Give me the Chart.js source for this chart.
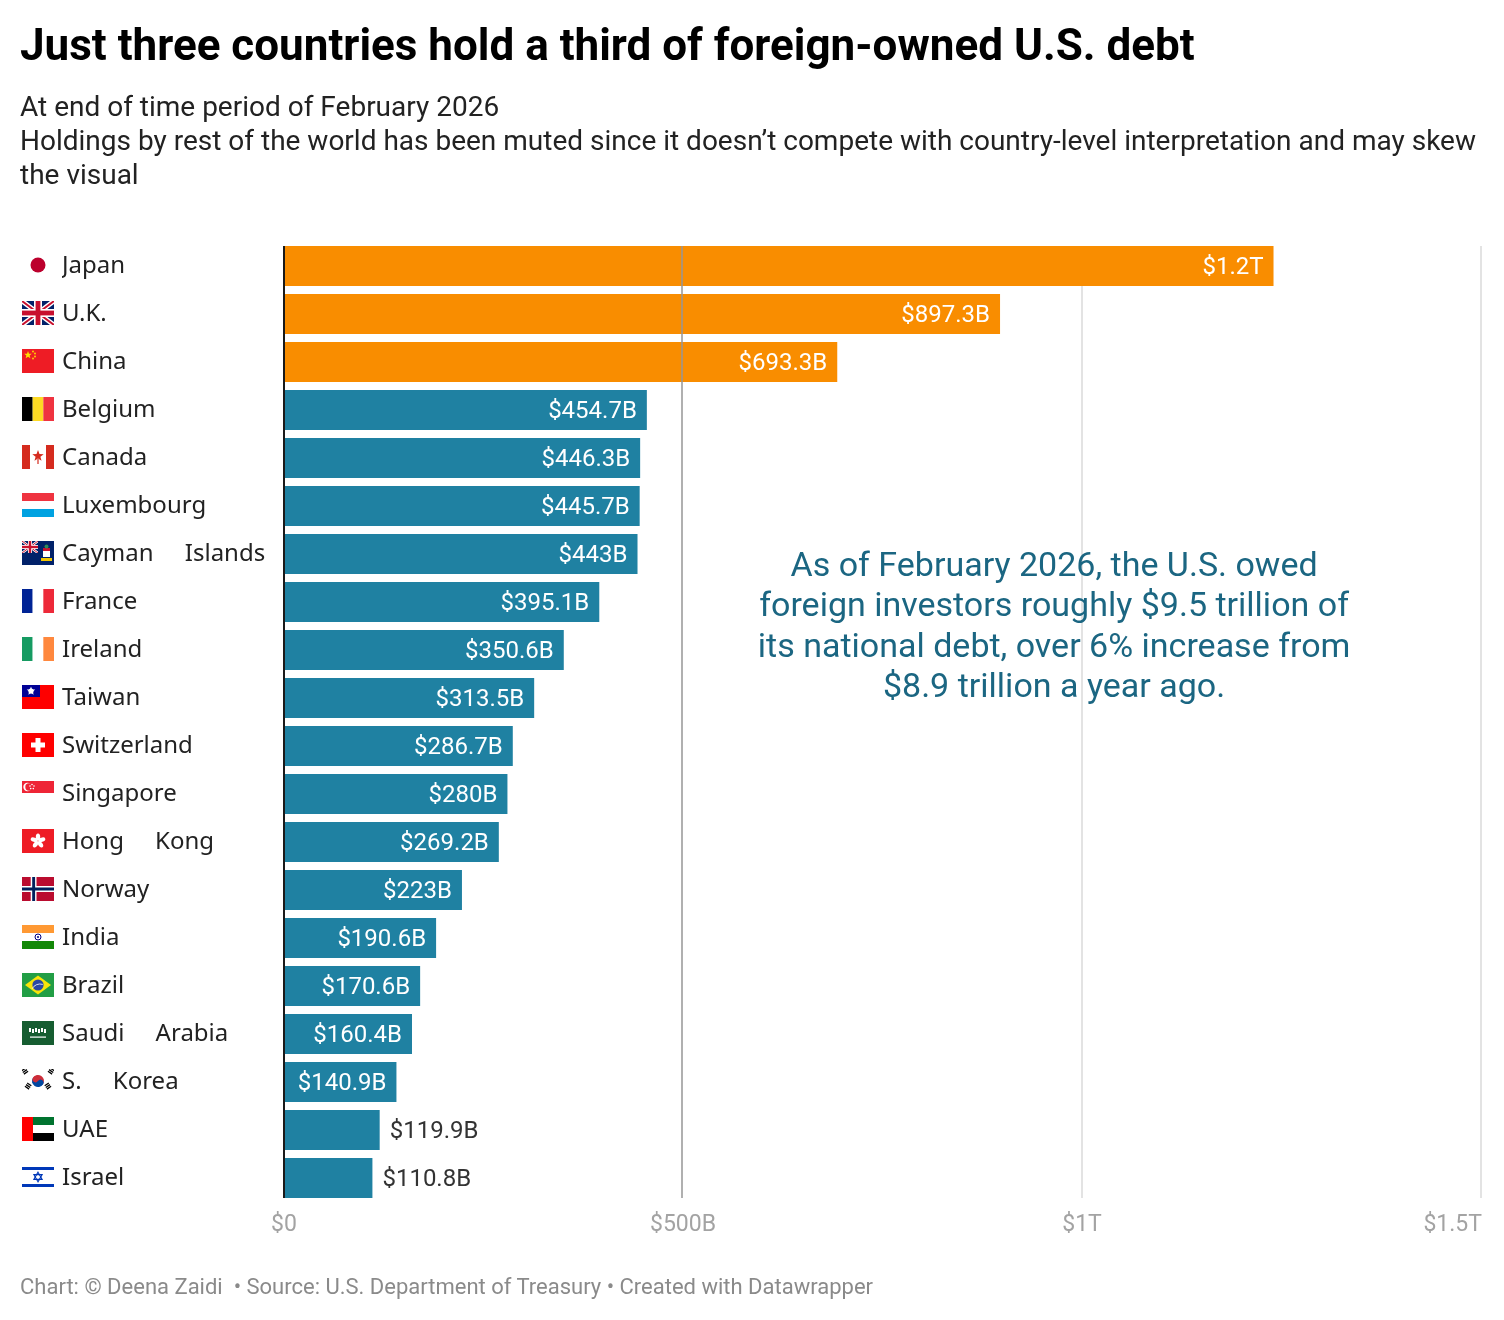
<!DOCTYPE html>
<html>
<head>
<meta charset="utf-8">
<script src="https://cdn.jsdelivr.net/npm/chart.js@4.4.1/dist/chart.umd.min.js"></script>
<style>
  body { margin: 0; background: #fff; }
  #page { position: relative; width: 1504px; height: 1320px; overflow: hidden; background: #fff; }
  #c { position: absolute; left: 0; top: 0; }
  .txt { position: absolute; left: 20px; white-space: nowrap; font-family: Roboto, sans-serif; }
  #title { top: 23px; font-size: 44px; line-height: 44px; font-weight: 700; color: #000; }
  #subtitle { top: 90.4px; font-size: 28px; line-height: 34px; color: #222; }
  #footer { top: 1275.5px; font-size: 22px; line-height: 22px; color: #8a8a8a; }
</style>
</head>
<body>
<div id="page">
  <canvas id="c" width="1504" height="1320"></canvas>
  <div class="txt" id="title">Just three countries hold a third of foreign-owned U.S. debt</div>
  <div class="txt" id="subtitle">At end of time period of February 2026<br>Holdings by rest of the world has been muted since it doesn’t compete with country-level interpretation and may skew<br>the visual</div>
  <div class="txt" id="footer">Chart: © Deena Zaidi &nbsp;• Source: U.S. Department of Treasury • Created with Datawrapper</div>
</div>
<script>
// data, in billions of dollars
const countries = ["Japan", "U.K.", "China", "Belgium", "Canada", "Luxembourg", "Cayman     Islands",
  "France", "Ireland", "Taiwan", "Switzerland", "Singapore", "Hong     Kong", "Norway", "India",
  "Brazil", "Saudi     Arabia", "S.     Korea", "UAE", "Israel"];
const holdings = [1240, 897.3, 693.3, 454.7, 446.3, 445.7, 443, 395.1, 350.6, 313.5, 286.7, 280,
  269.2, 223, 190.6, 170.6, 160.4, 140.9, 119.9, 110.8];
const flags = ["jp", "gb", "cn", "be", "ca", "lu", "ky", "fr", "ie", "tw", "ch", "sg", "hk", "no",
  "in", "br", "sa", "kr", "ae", "il"];
const axisTicks = [0, 500, 1000, 1500];
const note = ["As of February 2026, the U.S. owed",
  "foreign investors roughly $9.5 trillion of",
  "its national debt, over 6% increase from",
  "$8.9 trillion a year ago."];

const ORANGE = "#f98d00";
const TEAL = "#1f81a2";

const fmtValue = v => v >= 1000 ? "$" + (v / 1000).toFixed(1) + "T" : "$" + v + "B";
const fmtAxis = v => v === 0 ? "$0" : v >= 1000 ? "$" + (v / 1000) + "T" : "$" + v + "B";

function star(ctx, cx, cy, r, color, rot) {
  ctx.fillStyle = color;
  ctx.beginPath();
  for (let i = 0; i < 10; i++) {
    const a = (rot || 0) - Math.PI / 2 + i * Math.PI / 5;
    const rr = i % 2 ? r * 0.42 : r;
    ctx.lineTo(cx + Math.cos(a) * rr, cy + Math.sin(a) * rr);
  }
  ctx.closePath();
  ctx.fill();
}

function unionJack(ctx, x, y, w, h) {
  ctx.save();
  ctx.beginPath(); ctx.rect(x, y, w, h); ctx.clip();
  ctx.fillStyle = "#012169"; ctx.fillRect(x, y, w, h);
  const diag = (c, lw) => {
    ctx.strokeStyle = c; ctx.lineWidth = lw;
    ctx.beginPath();
    ctx.moveTo(x, y); ctx.lineTo(x + w, y + h);
    ctx.moveTo(x + w, y); ctx.lineTo(x, y + h);
    ctx.stroke();
  };
  diag("#fff", h * 0.2);
  diag("#c8102e", h * 0.08);
  ctx.fillStyle = "#fff";
  ctx.fillRect(x + w / 2 - h / 6, y, h / 3, h);
  ctx.fillRect(x, y + h / 2 - h / 6, w, h / 3);
  ctx.fillStyle = "#c8102e";
  ctx.fillRect(x + w / 2 - h / 10, y, h / 5, h);
  ctx.fillRect(x, y + h / 2 - h / 10, w, h / 5);
  ctx.restore();
}

function drawFlag(ctx, code, x, y, w, h) {
  ctx.save();
  ctx.beginPath(); ctx.rect(x, y, w, h); ctx.clip();
  const rect = (c, a, b, cw, ch) => { ctx.fillStyle = c; ctx.fillRect(x + a, y + b, cw, ch); };
  const dot = (c, cx, cy, r) => { ctx.fillStyle = c; ctx.beginPath(); ctx.arc(x + cx, y + cy, r, 0, Math.PI * 2); ctx.fill(); };
  switch (code) {
    case "jp":
      dot("#bc002d", w / 2, h / 2, 7.5);
      break;
    case "gb":
      unionJack(ctx, x, y, w, h);
      break;
    case "cn":
      rect("#ee1c25", 0, 0, w, h);
      star(ctx, x + 6, y + 6, 4, "#ffde00");
      dot("#ffde00", 11, 2.5, 0.9); dot("#ffde00", 13, 4.5, 0.9);
      dot("#ffde00", 13, 7.5, 0.9); dot("#ffde00", 11, 9.5, 0.9);
      break;
    case "be":
      rect("#000", 0, 0, w / 3, h); rect("#fdda24", w / 3, 0, w / 3, h); rect("#ef3340", 2 * w / 3, 0, w / 3 + 1, h);
      break;
    case "ca":
      rect("#d52b1e", 0, 0, w, h); rect("#fff", 8, 0, 16, h);
      star(ctx, x + 16, y + 11, 6, "#d52b1e");
      rect("#d52b1e", 15.4, 14, 1.2, 5);
      break;
    case "lu":
      rect("#ef3340", 0, 0, w, 8); rect("#fff", 0, 8, w, 8); rect("#00a2e1", 0, 16, w, 8);
      break;
    case "ky":
      rect("#012169", 0, 0, w, h);
      unionJack(ctx, x, y, 16, 12);
      rect("#fff", 21, 7, 7, 9);
      rect("#c8102e", 21, 7, 7, 3);
      dot("#2e8b57", 24.5, 5.5, 2);
      rect("#f2c500", 19, 17, 11, 3);
      break;
    case "fr":
      rect("#002395", 0, 0, w / 3, h); rect("#fff", w / 3, 0, w / 3, h); rect("#ed2939", 2 * w / 3, 0, w / 3 + 1, h);
      break;
    case "ie":
      rect("#169b62", 0, 0, w / 3, h); rect("#fff", w / 3, 0, w / 3, h); rect("#ff883e", 2 * w / 3, 0, w / 3 + 1, h);
      break;
    case "tw":
      rect("#fe0000", 0, 0, w, h); rect("#000095", 0, 0, 18, 12);
      star(ctx, x + 9, y + 6, 4.5, "#fff");
      dot("#fff", 9, 6, 2.6);
      break;
    case "ch":
      rect("#ff0000", 0, 0, w, h);
      rect("#fff", 13.5, 5, 5, 14); rect("#fff", 9, 9.5, 14, 5);
      break;
    case "sg":
      rect("#ee2536", 0, 0, w, 12);
      dot("#fff", 5.5, 6, 4.2); dot("#ee2536", 7, 6, 3.7);
      dot("#fff", 10, 3.5, 0.8); dot("#fff", 12, 5, 0.8); dot("#fff", 11.3, 7.6, 0.8);
      dot("#fff", 8.7, 7.6, 0.8); dot("#fff", 8, 5, 0.8);
      break;
    case "hk":
      rect("#ee1c25", 0, 0, w, h);
      ctx.fillStyle = "#fff";
      for (let k = 0; k < 5; k++) {
        const a = -Math.PI / 2 + k * 2 * Math.PI / 5;
        ctx.beginPath();
        ctx.ellipse(x + 16 + Math.cos(a) * 4, y + 12 + Math.sin(a) * 4, 3.6, 2.2, a, 0, Math.PI * 2);
        ctx.fill();
      }
      break;
    case "no":
      rect("#ba0c2f", 0, 0, w, h);
      rect("#fff", 8.7, 0, 5.8, h); rect("#fff", 0, 9, w, 6);
      rect("#00205b", 10.2, 0, 2.9, h); rect("#00205b", 0, 10.5, w, 3);
      break;
    case "in":
      rect("#ff9933", 0, 0, w, 8); rect("#fff", 0, 8, w, 8); rect("#138808", 0, 16, w, 8);
      ctx.strokeStyle = "#000080"; ctx.lineWidth = 1;
      ctx.beginPath(); ctx.arc(x + 16, y + 12, 3, 0, Math.PI * 2); ctx.stroke();
      dot("#000080", 16, 12, 1);
      break;
    case "br":
      rect("#229e45", 0, 0, w, h);
      ctx.fillStyle = "#f8e509";
      ctx.beginPath();
      ctx.moveTo(x + 3, y + 12); ctx.lineTo(x + 16, y + 2.5); ctx.lineTo(x + 29, y + 12); ctx.lineTo(x + 16, y + 21.5);
      ctx.closePath(); ctx.fill();
      dot("#2b49a3", 16, 12, 5.6);
      ctx.strokeStyle = "#fff"; ctx.lineWidth = 0.8;
      ctx.beginPath(); ctx.arc(x + 18, y + 20, 9, Math.PI * 1.15, Math.PI * 1.6); ctx.stroke();
      break;
    case "sa":
      rect("#165d31", 0, 0, w, h);
      ctx.fillStyle = "#fff";
      for (let k = 0; k < 6; k++) ctx.fillRect(x + 7 + k * 3, y + 7 + (k % 2), 2, 4);
      ctx.fillRect(x + 8, y + 15.5, 16, 1.2);
      break;
    case "kr":
      rect("#fff", 0, 0, w, h);
      ctx.save();
      ctx.translate(x + 16, y + 12);
      ctx.rotate(Math.atan2(2, 3));
      ctx.fillStyle = "#cd2e3a";
      ctx.beginPath(); ctx.arc(0, 0, 6, Math.PI, 0); ctx.fill();
      ctx.fillStyle = "#0047a0";
      ctx.beginPath(); ctx.arc(0, 0, 6, 0, Math.PI); ctx.fill();
      ctx.fillStyle = "#cd2e3a";
      ctx.beginPath(); ctx.arc(-3, 0, 3, 0, Math.PI * 2); ctx.fill();
      ctx.fillStyle = "#0047a0";
      ctx.beginPath(); ctx.arc(3, 0, 3, 0, Math.PI * 2); ctx.fill();
      ctx.restore();
      ctx.fillStyle = "#000";
      [[-1, -1], [1, -1], [-1, 1], [1, 1]].forEach(([sx, sy]) => {
        ctx.save();
        ctx.translate(x + 16 + sx * 11.5, y + 12 + sy * 7.5);
        ctx.rotate(-sx * sy * Math.atan2(2, 3) + Math.PI / 2);
        for (let b = -1; b <= 1; b++) ctx.fillRect(-3 + b * 2 - 0.6, -2.5, 1.3, 5);
        ctx.restore();
      });
      break;
    case "ae":
      rect("#00732f", 0, 0, w, 8); rect("#fff", 0, 8, w, 8); rect("#000", 0, 16, w, 8);
      rect("#ff0000", 0, 0, 11, h);
      break;
    case "il":
      rect("#fff", 0, 0, w, h);
      rect("#0038b8", 0, 2, w, 3); rect("#0038b8", 0, 19, w, 3);
      ctx.strokeStyle = "#0038b8"; ctx.lineWidth = 1.1;
      [0, Math.PI].forEach(off => {
        ctx.beginPath();
        for (let k = 0; k < 3; k++) {
          const a = off - Math.PI / 2 + k * 2 * Math.PI / 3;
          ctx.lineTo(x + 16 + Math.cos(a) * 4.8, y + 12 + Math.sin(a) * 4.8);
        }
        ctx.closePath(); ctx.stroke();
      });
      break;
  }
  ctx.restore();
}

const decor = {
  id: "decor",
  beforeDatasetsDraw(chart) {
    const { ctx, scales: { x } } = chart;
    const bars = chart.getDatasetMeta(0).data;
    const top = bars[0].y - bars[0].height / 2;
    const bottom = bars[bars.length - 1].y + bars[bars.length - 1].height / 2;
    ctx.save();
    ctx.strokeStyle = "#e3e3e3";
    ctx.lineWidth = 2;
    x.ticks.forEach(t => {
      if (t.value === 0 || t.value === 500) return;
      const px = Math.round(x.getPixelForValue(t.value));
      ctx.beginPath(); ctx.moveTo(px, top); ctx.lineTo(px, bottom); ctx.stroke();
    });
    ctx.restore();
  },
  afterDatasetsDraw(chart) {
    const { ctx, chartArea, scales: { x, y } } = chart;
    const bars = chart.getDatasetMeta(0).data;
    const top = bars[0].y - bars[0].height / 2;
    const bottom = bars[bars.length - 1].y + bars[bars.length - 1].height / 2;
    ctx.save();

    // the $500B line sits over the bars
    const p500 = Math.round(x.getPixelForValue(500)) - 1;
    ctx.strokeStyle = "rgba(150,150,150,0.75)";
    ctx.lineWidth = 2;
    ctx.beginPath(); ctx.moveTo(p500, top); ctx.lineTo(p500, bottom); ctx.stroke();

    // zero baseline
    const p0 = x.getPixelForValue(0);
    ctx.strokeStyle = "#1a1a1a";
    ctx.beginPath(); ctx.moveTo(p0, top); ctx.lineTo(p0, bottom); ctx.stroke();

    // value labels
    ctx.font = "24px Roboto";
    ctx.textBaseline = "middle";
    bars.forEach((bar, i) => {
      const text = fmtValue(holdings[i]);
      const tw = ctx.measureText(text).width;
      if (tw + 20 <= bar.x - bar.base) {
        ctx.fillStyle = "#fff"; ctx.textAlign = "right";
        ctx.fillText(text, bar.x - 10, bar.y + 2);
      } else {
        ctx.fillStyle = "#333"; ctx.textAlign = "left";
        ctx.fillText(text, bar.x + 10, bar.y + 2);
      }
    });

    // flags beside the country names
    flags.forEach((code, i) => {
      const cy = y.getPixelForValue(i);
      drawFlag(ctx, code, 22, Math.round(cy - 13), 32, 24);
    });

    // x axis tick labels
    ctx.font = "23px Roboto";
    ctx.fillStyle = "#a3a3a3";
    axisTicks.forEach((v, i) => {
      const last = i === axisTicks.length - 1;
      ctx.textAlign = last ? "right" : "center";
      ctx.fillText(fmtAxis(v), x.getPixelForValue(v) + (last ? 1 : 0), chartArea.bottom + 23);
    });

    // annotation
    ctx.font = "34px Roboto";
    ctx.fillStyle = "#1b6682";
    ctx.textAlign = "center";
    const ax = x.getPixelForValue(965);
    const ay = y.getPixelForValue(6) + 13;
    note.forEach((line, i) => ctx.fillText(line, ax, ay + i * 40.5));
    ctx.restore();
  }
};

Promise.all([
  document.fonts.load('24px "Noto Sans"'),
  document.fonts.load('24px Roboto'),
  document.fonts.load('700 44px Roboto')
]).catch(() => {}).then(() => {
  new Chart(document.getElementById("c"), {
    type: "bar",
    data: {
      labels: countries,
      datasets: [{
        data: holdings,
        backgroundColor: holdings.map((_, i) => i < 3 ? ORANGE : TEAL),
        borderWidth: 0,
        barPercentage: 40 / 48,
        categoryPercentage: 1
      }]
    },
    options: {
      indexAxis: "y",
      responsive: false,
      animation: false,
      layout: { padding: { top: 242, bottom: 118, left: 62, right: 23 } },
      plugins: { legend: { display: false }, tooltip: { enabled: false } },
      scales: {
        x: { display: false, min: 0, max: 1500, ticks: { stepSize: 500 } },
        y: {
          grid: { display: false },
          border: { display: false },
          ticks: { color: "#222", font: { family: "Noto Sans", size: 24 }, crossAlign: "far", padding: 0 },
          afterFit(scale) { scale.width = 222; }
        }
      }
    },
    plugins: [decor]
  });
});
</script>
</body>
</html>
